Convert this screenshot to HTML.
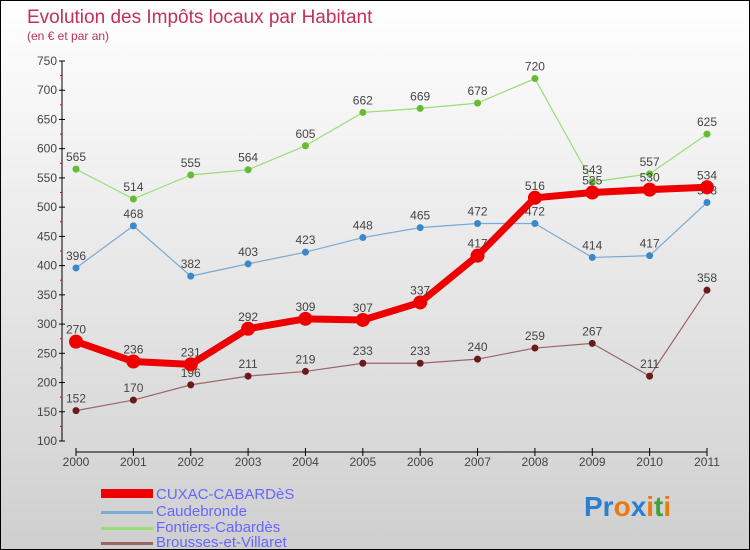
<!DOCTYPE html>
<html><head><meta charset="utf-8"><style>
body{margin:0}
#c{width:750px;height:550px;position:relative;box-sizing:border-box;border:1px solid #000;background:linear-gradient(#ffffff,#cfcfcf);font-family:"Liberation Sans",sans-serif;overflow:hidden}
svg text{font-family:"Liberation Sans",sans-serif}
</style></head><body>
<div id="c">
<svg id="s" width="750" height="550">
<text x="26" y="22" font-size="19" fill="#c0305a">Evolution des Impôts locaux par Habitant</text>
<text x="26" y="39" font-size="12" fill="#c0305a">(en € et par an)</text>
<g id="axes"></g><g id="series"></g>
<g>
<rect x="100" y="488" width="52" height="9" fill="#e00"/>
<text x="155" y="498" font-size="15" fill="#6666ff">CUXAC-CABARDèS</text>
<rect x="100" y="510" width="52" height="3" fill="#7aaad0"/>
<text x="155" y="515" font-size="15" fill="#6666ff">Caudebronde</text>
<rect x="100" y="526" width="52" height="3" fill="#99dd77"/>
<text x="155" y="531" font-size="15" fill="#6666ff">Fontiers-Cabardès</text>
<rect x="100" y="541" width="52" height="3" fill="#996666"/>
<text x="155" y="546" font-size="15" fill="#6666ff">Brousses-et-Villaret</text>
</g>
<g font-size="28" font-weight="bold">
<text x="583" y="515"><tspan fill="#2a7fd0">Pr</tspan><tspan fill="#e87a10">o</tspan><tspan fill="#2a7fd0">x</tspan><tspan fill="#e87a10">i</tspan><tspan fill="#40a040">t</tspan><tspan fill="#e87a10">i</tspan></text>
</g>
</svg></div>
<script>
const years=["2000","2001","2002","2003","2004","2005","2006","2007","2008","2009","2010","2011"];
const cuxac=[270,236,231,292,309,307,337,417,516,525,530,534];
const caudebronde=[396,468,382,403,423,448,465,472,472,414,417,508];
const fontiers=[565,514,555,564,605,662,669,678,720,543,557,625];
const brousses=[152,170,196,211,219,233,233,240,259,267,211,358];
const yTicks=[100,150,200,250,300,350,400,450,500,550,600,650,700,750];
const NS="http://www.w3.org/2000/svg";
function X(i){return 75+i*(706-75)/11;}
function Y(v){return 440-(v-100)*(380/650);}
function mk(tag,attrs,parent){const e=document.createElementNS(NS,tag);for(const k in attrs)e.setAttribute(k,attrs[k]);parent.appendChild(e);return e;}
const ax=document.getElementById('axes');
let l=mk('line',{x1:61,y1:Y(750),x2:61,y2:Y(100),stroke:'#000','stroke-width':1},ax);


yTicks.forEach((v,i)=>{
 const y=Y(v);
 mk('line',{x1:58,y1:y,x2:64,y2:y,stroke:'#000'},ax);
 const t=mk('text',{x:56,y:y+4,'font-size':12,'text-anchor':'end',fill:'#444'},ax);
 t.textContent=v;
 
 
 if(i<yTicks.length-1){mk('line',{x1:59,y1:Y(v+25),x2:61,y2:Y(v+25),stroke:'#e00'},ax);}
});
l=mk('line',{x1:75,y1:451,x2:706,y2:451,stroke:'#000'},ax);


years.forEach((yr,i)=>{
 mk('line',{x1:X(i),y1:447,x2:X(i),y2:455,stroke:'#000'},ax);
 const t=mk('text',{x:X(i),y:465,'font-size':12,'text-anchor':'middle',fill:'#444'},ax);
 t.textContent=yr;
 
 
});
const sg=document.getElementById('series');
function draw(vals,name,color,dot,w,r){
 const g=mk('g',{},sg);
 
 
 const p=mk('polyline',{points:vals.map((v,i)=>X(i)+','+Y(v)).join(' '),fill:'none',stroke:color,'stroke-width':w,'stroke-linejoin':'round'},g);
 
 
 vals.forEach((v,i)=>{
  const c=mk('circle',{cx:X(i),cy:Y(v),r:r,fill:dot},g);
  
  
  const t=mk('text',{x:X(i),y:Y(v)-8,'font-size':12,'text-anchor':'middle',fill:'#444'},g);
  t.textContent=v;
  
  
 });
}
draw(brousses,'brousses','#996666','#6b1a1a',1.2,3.5);
draw(caudebronde,'caudebronde','#7aaad0','#3a88c8',1.2,3.5);
draw(fontiers,'fontiers','#99dd77','#66bb33',1.2,3.5);
draw(cuxac,'cuxac','#ee0000','#ee0000',7,7);
</script>
</body></html>
